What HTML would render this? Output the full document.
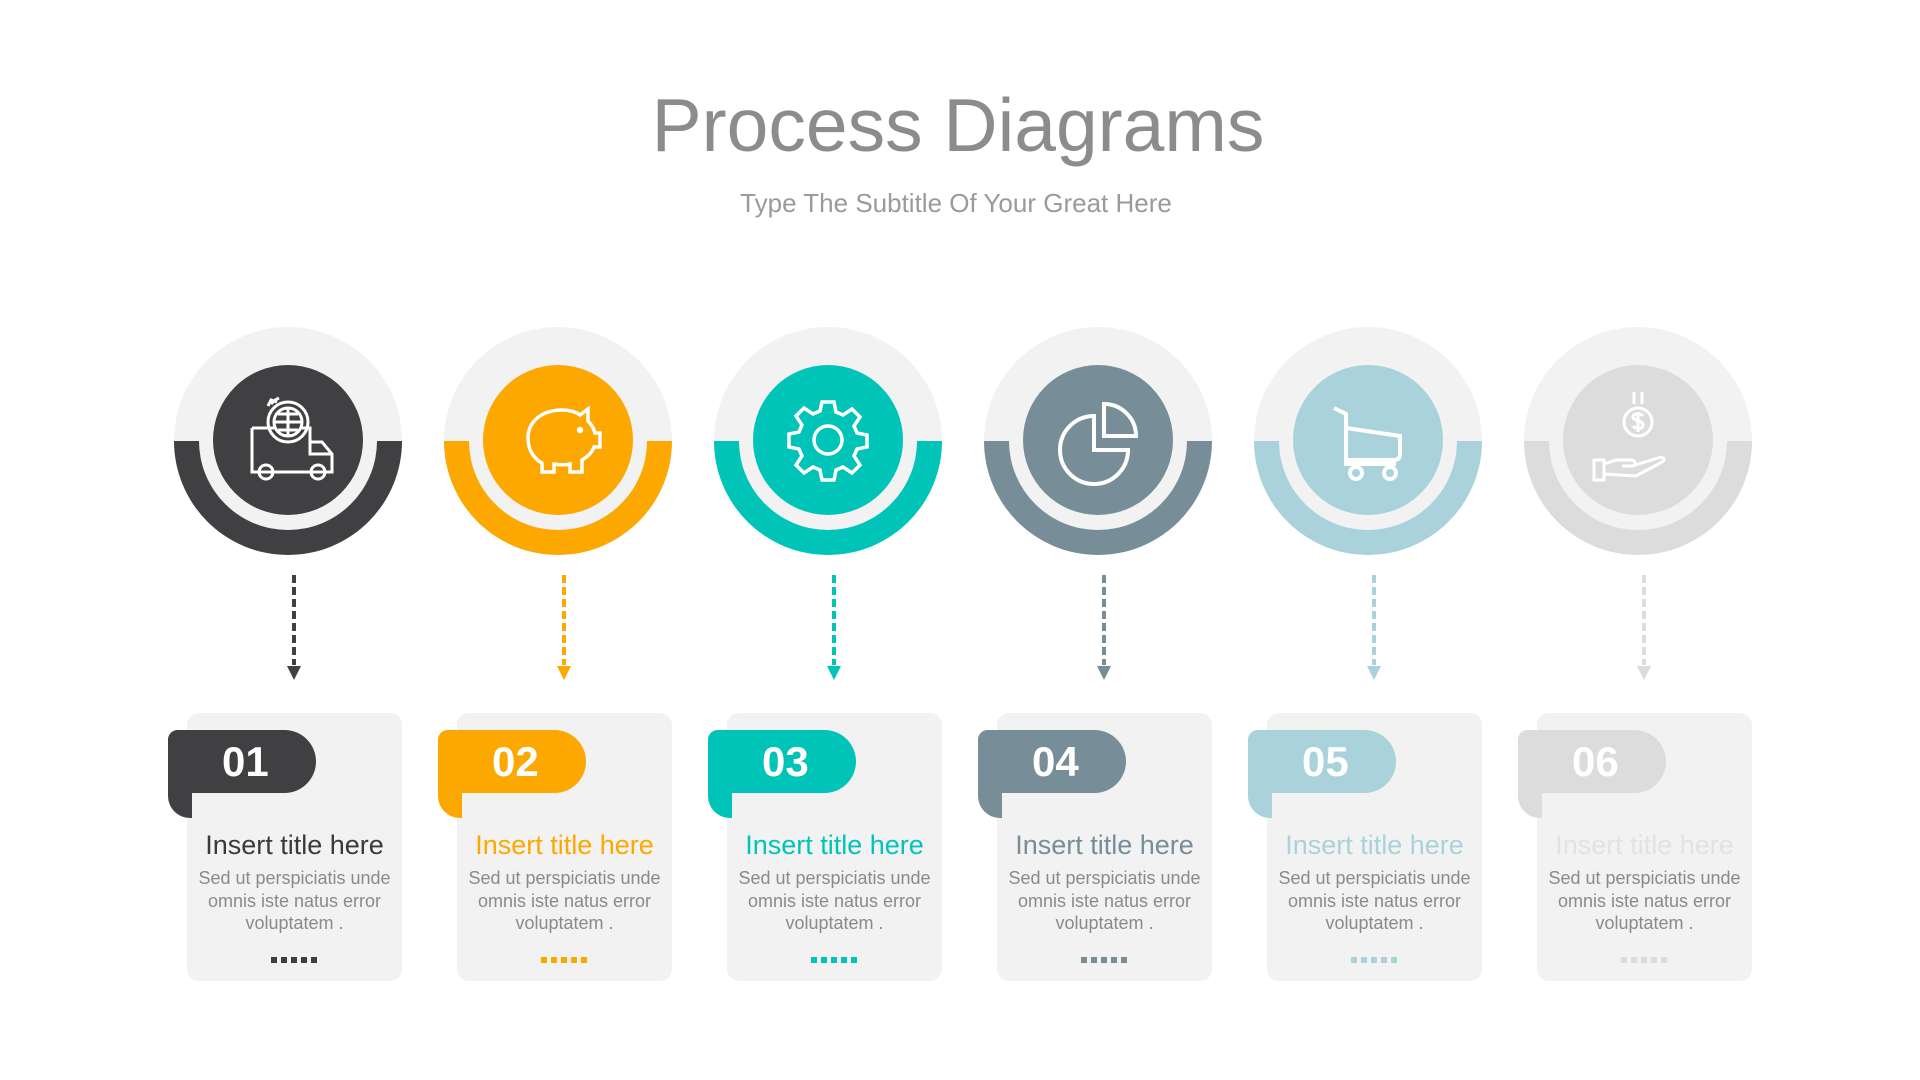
<!DOCTYPE html>
<html><head><meta charset="utf-8"><style>
*{margin:0;padding:0;box-sizing:border-box}
body{width:1920px;height:1080px;background:#fff;position:relative;overflow:hidden;font-family:"Liberation Sans",sans-serif}
.t{position:absolute;left:0;width:1920px;text-align:center}
.blk{position:absolute;top:0;width:270px;height:1080px}
.outer{position:absolute;left:20px;top:327px;width:228px;height:228px;border-radius:50%;background:linear-gradient(#f2f2f2 50%,var(--c) 50%)}
.ring{position:absolute;left:45px;top:352px;width:178px;height:178px;border-radius:50%;background:#f2f2f2}
.inner{position:absolute;left:59px;top:365px;width:150px;height:150px;border-radius:50%;background:var(--c)}
.inner svg{position:absolute;left:25px;top:25px}
.arrow{position:absolute;left:133px;top:575px}
.card{position:absolute;left:33px;top:713px;width:215px;height:268px;background:#f2f2f2;border-radius:12px}
.tabl{position:absolute;left:14px;top:730px;width:24px;height:88px;background:var(--c);border-radius:10px 0 0 22px}
.tab{position:absolute;left:14px;top:730px;width:148px;height:63px;background:var(--c);border-radius:10px 32px 32px 0;color:#fff;font-weight:bold;font-size:42px;line-height:63px;padding-left:54px}
.ttl{position:absolute;left:33px;width:215px;top:830px;text-align:center;font-size:27px;color:var(--tc)}
.body{position:absolute;left:33px;width:215px;top:867px;text-align:center;font-size:18px;line-height:22.5px;color:#8a8a8a}
.dots{position:absolute;left:117px;top:957px;display:flex;gap:4px}
.dots i{width:6px;height:6px;background:var(--c)}
</style></head><body>
<div class="t" style="top:82px;font-size:75px;color:#8c8c8c;left:-2px">Process Diagrams</div>
<div class="t" style="top:188px;font-size:26px;color:#9a9a9a;left:-4px">Type The Subtitle Of Your Great Here</div>

<!-- 1 -->
<div class="blk" style="left:154px;--c:#404042;--tc:#3a3a3a">
<div class="outer"></div><div class="ring"></div>
<div class="inner"><svg width="100" height="100" viewBox="0 0 100 100" fill="none" stroke="#fff" stroke-width="3"><circle cx="50" cy="32" r="20"/><circle cx="50" cy="32" r="14"/><path d="M36 32h28M50 18v28M40 24h20M40 40h20"/><path d="M33 14a22 22 0 0 1 8-6M30 16l3-6 6 2"/><path d="M14 38h22M64 38h8v14h12l10 12v18H14V38"/><circle cx="28" cy="82" r="7"/><circle cx="80" cy="82" r="7"/><path d="M72 52v12h22"/></svg></div>
<svg class="arrow" width="14" height="106"><line x1="7" y1="0" x2="7" y2="90" stroke="var(--c)" stroke-width="4" stroke-dasharray="8 4"/><path d="M0 91h14l-7 14z" fill="var(--c)"/></svg>
<div class="card"></div><div class="tabl"></div><div class="tab">01</div>
<div class="ttl">Insert title here</div>
<div class="body">Sed ut perspiciatis unde<br>omnis iste natus error<br>voluptatem .</div>
<div class="dots"><i></i><i></i><i></i><i></i><i></i></div>
</div>

<!-- 2 -->
<div class="blk" style="left:424px;--c:#fca800;--tc:#fca800">
<div class="outer"></div><div class="ring"></div>
<div class="inner"><svg width="100" height="100" viewBox="0 0 100 100" fill="none" stroke="#fff" stroke-width="3.5"><path d="M20 48c0-18 16-28 34-28 8 0 14 2 18 5l8-6v12c4 4 6 8 7 12h5v14h-6c-2 6-7 10-12 13v12H62v-8c-4 1-10 1-16 0v8H34V73c-9-5-14-14-14-25z"/><circle cx="72" cy="40" r="1.5" fill="#fff"/></svg></div>
<svg class="arrow" width="14" height="106"><line x1="7" y1="0" x2="7" y2="90" stroke="var(--c)" stroke-width="4" stroke-dasharray="8 4"/><path d="M0 91h14l-7 14z" fill="var(--c)"/></svg>
<div class="card"></div><div class="tabl"></div><div class="tab">02</div>
<div class="ttl">Insert title here</div>
<div class="body">Sed ut perspiciatis unde<br>omnis iste natus error<br>voluptatem .</div>
<div class="dots"><i></i><i></i><i></i><i></i><i></i></div>
</div>

<!-- 3 -->
<div class="blk" style="left:694px;--c:#00c4b8;--tc:#00c4b8">
<div class="outer"></div><div class="ring"></div>
<div class="inner"><svg width="100" height="100" viewBox="0 0 100 100" fill="none" stroke="#fff" stroke-width="3.5"><path d="M44 12h12l2 10 7 3 9-6 8 8-6 9 3 7 10 2v12l-10 2-3 7 6 9-8 8-9-6-7 3-2 10H44l-2-10-7-3-9 6-8-8 6-9-3-7-10-2V44l10-2 3-7-6-9 8-8 9 6 7-3z"/><circle cx="50" cy="50" r="14"/></svg></div>
<svg class="arrow" width="14" height="106"><line x1="7" y1="0" x2="7" y2="90" stroke="var(--c)" stroke-width="4" stroke-dasharray="8 4"/><path d="M0 91h14l-7 14z" fill="var(--c)"/></svg>
<div class="card"></div><div class="tabl"></div><div class="tab">03</div>
<div class="ttl">Insert title here</div>
<div class="body">Sed ut perspiciatis unde<br>omnis iste natus error<br>voluptatem .</div>
<div class="dots"><i></i><i></i><i></i><i></i><i></i></div>
</div>

<!-- 4 -->
<div class="blk" style="left:964px;--c:#778e99;--tc:#778e99">
<div class="outer"></div><div class="ring"></div>
<div class="inner"><svg width="100" height="100" viewBox="0 0 100 100" fill="none" stroke="#fff" stroke-width="4"><path d="M46 26a34 34 0 1 0 34 34H46z"/><path d="M56 14a32 32 0 0 1 32 32H56z"/></svg></div>
<svg class="arrow" width="14" height="106"><line x1="7" y1="0" x2="7" y2="90" stroke="var(--c)" stroke-width="4" stroke-dasharray="8 4"/><path d="M0 91h14l-7 14z" fill="var(--c)"/></svg>
<div class="card"></div><div class="tabl"></div><div class="tab">04</div>
<div class="ttl">Insert title here</div>
<div class="body">Sed ut perspiciatis unde<br>omnis iste natus error<br>voluptatem .</div>
<div class="dots"><i></i><i></i><i></i><i></i><i></i></div>
</div>

<!-- 5 -->
<div class="blk" style="left:1234px;--c:#a9d2da;--tc:#a9d2da">
<div class="outer"></div><div class="ring"></div>
<div class="inner"><svg width="100" height="100" viewBox="0 0 100 100" fill="none" stroke="#fff" stroke-width="4"><path d="M16 18l12 6v50h50"/><path d="M28 38l54 8v18c0 4-2 6-6 6H28"/><circle cx="38" cy="83" r="6"/><circle cx="72" cy="83" r="6"/></svg></div>
<svg class="arrow" width="14" height="106"><line x1="7" y1="0" x2="7" y2="90" stroke="var(--c)" stroke-width="4" stroke-dasharray="8 4"/><path d="M0 91h14l-7 14z" fill="var(--c)"/></svg>
<div class="card"></div><div class="tabl"></div><div class="tab">05</div>
<div class="ttl">Insert title here</div>
<div class="body">Sed ut perspiciatis unde<br>omnis iste natus error<br>voluptatem .</div>
<div class="dots"><i></i><i></i><i></i><i></i><i></i></div>
</div>

<!-- 6 -->
<div class="blk" style="left:1504px;--c:#dcdcdc;--tc:#e2e2e2">
<div class="outer"></div><div class="ring"></div>
<div class="inner"><svg width="100" height="100" viewBox="0 0 100 100" fill="none" stroke="#fff" stroke-width="3"><path d="M46 2v12M54 2v12"/><circle cx="50" cy="32" r="14"/><path d="M55 26c-2-3-10-3-10 1s10 3 10 8-8 4-10 1M50 22v20"/><path d="M6 70h10v20H6zM16 74l12-4h16c4 0 4 6 0 6H34M44 76l26-8c6-2 8 2 4 4L48 86 16 84"/></svg></div>
<svg class="arrow" width="14" height="106"><line x1="7" y1="0" x2="7" y2="90" stroke="var(--c)" stroke-width="4" stroke-dasharray="8 4"/><path d="M0 91h14l-7 14z" fill="var(--c)"/></svg>
<div class="card"></div><div class="tabl"></div><div class="tab">06</div>
<div class="ttl">Insert title here</div>
<div class="body">Sed ut perspiciatis unde<br>omnis iste natus error<br>voluptatem .</div>
<div class="dots"><i></i><i></i><i></i><i></i><i></i></div>
</div>
</body></html>
